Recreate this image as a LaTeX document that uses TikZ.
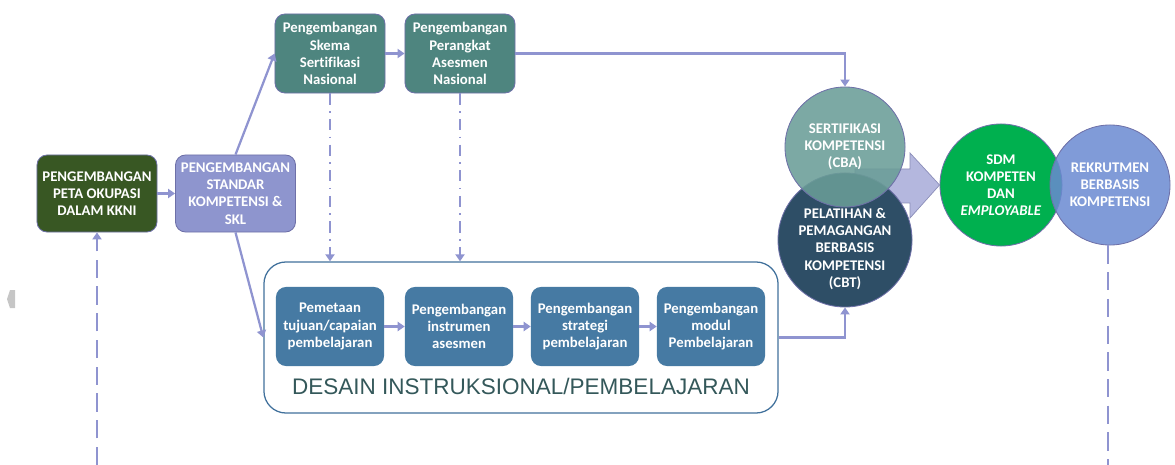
\documentclass[tikz,border=0pt]{standalone}
\usepackage{fontspec}
\setmainfont{Carlito}[Ligatures=NoCommon]
\newfontfamily\judulfont{Liberation Sans}
\definecolor{KKGreen}{HTML}{385723}
\definecolor{KKLavender}{HTML}{8E95CE}
\definecolor{KKTeal}{HTML}{4E857F}
\definecolor{KKSteel}{HTML}{467AA3}
\definecolor{KKFrame}{HTML}{41719C}
\definecolor{KKLine}{HTML}{8F94D0}
\definecolor{KKEdge}{HTML}{6E70A8}
\definecolor{KKCba}{HTML}{6A9D97}
\definecolor{KKCbt}{HTML}{2E4E66}
\definecolor{KKSdm}{HTML}{00B04F}
\definecolor{KKRekrut}{HTML}{6A8AD1}
\definecolor{KKTitle}{HTML}{34585A}
\definecolor{KKArrow}{HTML}{B4B7DE}
\usepackage{tikz}
\usetikzlibrary{positioning,arrows.meta,calc}

\begin{document}
\begin{tikzpicture}[x=0.025cm, y=-0.025cm,
    every node/.style={font=\fontsize{10.5}{12.2}\selectfont\bfseries, text=white, align=center},
    box/.style={rectangle, rounded corners=0.25cm, draw=KKEdge, line width=0.6pt, fill=#1,
      inner sep=1pt},
    bigbox/.style={box=#1, minimum width=3cm, minimum height=1.925cm},
    tealbox/.style={box=KKTeal, minimum width=2.75cm, minimum height=1.975cm},
    stepbox/.style={rectangle, rounded corners=0.25cm, fill=KKSteel, minimum width=2.7cm,
      minimum height=1.975cm, inner sep=1pt},
    bubble/.style={circle, draw=KKEdge, line width=0.6pt, fill=#1, inner sep=0pt},
    link/.style={KKLine, line width=1.6pt, -{Triangle[length=5pt,width=6.5pt]}},
    dashlink/.style={KKLine, line width=1.7pt, dash pattern=on 13pt off 6pt},
    dotlink/.style={KKLine, line width=1.6pt, dash pattern=on 8pt off 4.5pt on 1.2pt off 4.5pt,
      -{Triangle[length=5pt,width=6.5pt]}}]
  \useasboundingbox (0,0) rectangle (1175,465);
  % left side
  \fill[gray!45] (15,290) -- (10,290) -- (7,299) -- (10,308) -- (15,308) -- cycle;
  \node[bigbox=KKGreen] (peta) at (97,193.5) {PENGEMBANGAN\\PETA OKUPASI\\DALAM KKNI};
  \node[bigbox=KKLavender] (skl) at (235.5,193.5) {PENGEMBANGAN\\STANDAR\\KOMPETENSI \&\\SKL};
  \node[tealbox] (skema) at (330,53.5) {Pengembangan\\Skema\\Sertifikasi\\Nasional};
  \node[tealbox] (perangkat) at (460,53.5) {Pengembangan\\Perangkat\\Asesmen\\Nasional};
  % desain instruksional
  \node[rectangle, rounded corners=0.55cm, draw=KKFrame, line width=0.9pt, fill=white,
        minimum width=12.85cm, minimum height=3.775cm] (desain) at (521,337.5) {};
  \node[stepbox] (tujuan) at (330,326.5) {Pemetaan\\tujuan/capaian\\pembelajaran};
  \node[stepbox] (instrumen) at (459,326.5) {Pengembangan\\instrumen\\asesmen};
  \node[stepbox] (strategi) at (585,326.5) {Pengembangan\\strategi\\pembelajaran};
  \node[stepbox] (modul) at (711,326.5) {Pengembangan\\modul\\Pembelajaran};
  \node[font=\judulfont\fontsize{16}{18}\selectfont, text=KKTitle] (judul) at (521,386) {DESAIN INSTRUKSIONAL/PEMBELAJARAN};
  % big arrow and circles
  \node[bubble=KKSdm, minimum size=3.05cm] (sdm) at (1001,185) {SDM\\KOMPETEN\\DAN\\\textit{EMPLOYABLE}};
  \fill[KKArrow, draw=KKEdge!80, line width=0.5pt] (855,169) -- (910,169) -- (910,153) -- (sdm.west)
    -- (910,218) -- (910,203) -- (855,203) -- cycle;
  \node[bubble=KKCbt, minimum size=3.35cm] (cbt) at (845,240) {};
  \node at (845,249) {PELATIHAN \&\\PEMAGANGAN\\BERBASIS\\KOMPETENSI\\(CBT)};
  \node[bubble=KKCba, fill opacity=0.88, text opacity=1, minimum size=3cm] (cba) at (845,147) {SERTIFIKASI\\KOMPETENSI\\(CBA)};
  \node[bubble=KKRekrut, fill opacity=0.85, text opacity=1, minimum size=3cm] (rekrut) at (1110,185) {REKRUTMEN\\BERBASIS\\KOMPETENSI};
  % connectors
  \draw[link] (peta) -- (skl);
  \draw[link] (skl.north) -- (skema.west);
  \draw[link] (skl.south) -- (desain.west);
  \draw[link] (skema) -- (perangkat);
  \draw[link] (perangkat.east) -| (cba.north);
  \draw[link] (tujuan) -- (instrumen);
  \draw[link] (instrumen) -- (strategi);
  \draw[link] (strategi) -- (modul);
  \draw[link] (desain.east) -| (cbt.south);
  \draw[dotlink] (skema.south) -- (skema.south |- desain.north);
  \draw[dotlink] (perangkat.south) -- (perangkat.south |- desain.north);
  \coordinate (bawahkiri) at (97,465);
  \coordinate (bawahkanan) at (1108,465);
  \draw[dashlink, -{Triangle[length=5pt,width=6.5pt]}] (bawahkiri) -- (peta.south);
  \draw[dashlink] (rekrut.south -| bawahkanan) -- (bawahkanan);
\end{tikzpicture}
\end{document}
